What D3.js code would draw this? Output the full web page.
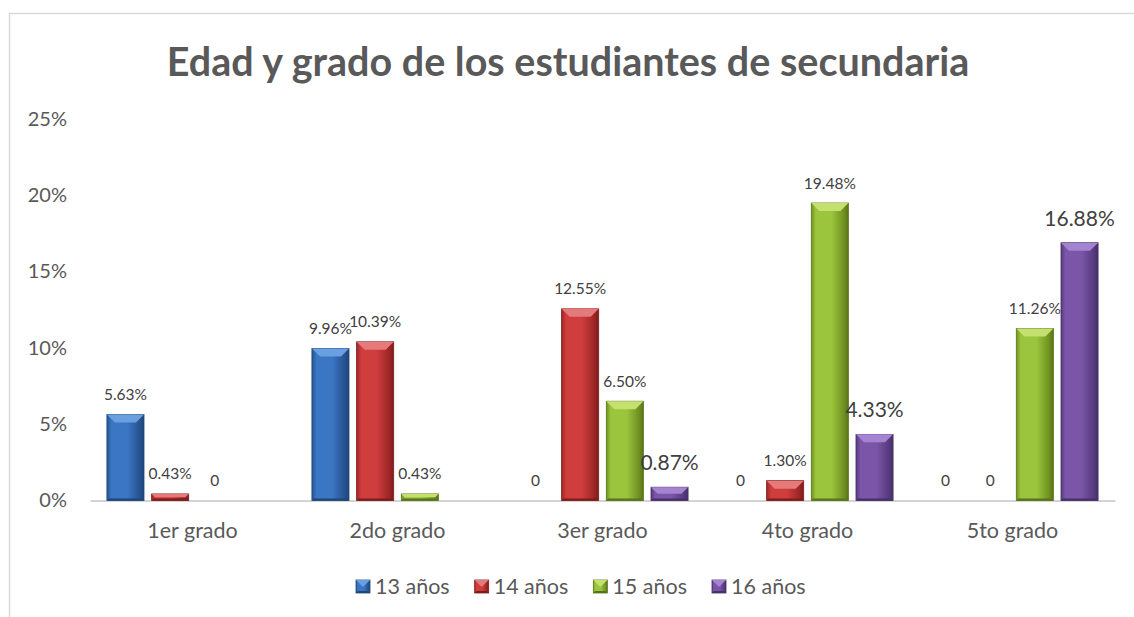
<!DOCTYPE html>
<html><head><meta charset="utf-8">
<script src="https://cdn.jsdelivr.net/npm/d3@7"></script>
<style>body{margin:0;background:#fff}svg{display:block;font-family:Lato,"Open Sans",sans-serif}</style>
</head><body><svg id="c" width="1134" height="617"></svg>
<script>
const categories = ["1er grado","2do grado","3er grado","4to grado","5to grado"];
const seriesNames = ["13 años","14 años","15 años","16 años"];
const s13 = [5.63, 9.96, 0, 0, 0];
const s14 = [0.43, 10.39, 12.55, 1.30, 0];
const s15 = [0, 0.43, 6.50, 19.48, 11.26];
const s16 = [null, null, 0.87, 4.33, 16.88];
const yTicks = [0,5,10,15,20,25];
const title = "Edad y grado de los estudiantes de secundaria";
// styles
const colors = [
  {main:"#3b76c4", light:"#6a9fe0", dark:"#26528f", edge:"#1f4679"},
  {main:"#cf3d3d", light:"#e57a7a", dark:"#9c2626", edge:"#7e1c1c"},
  {main:"#9bc53d", light:"#c4e06f", dark:"#6f9120", edge:"#587419"},
  {main:"#7b56a8", light:"#a483d0", dark:"#573a7f", edge:"#46306a"}
];
const bigLabel = [[false,false,false,false,false],[false,false,false,false,false],[false,false,false,false,false],[false,false,true,true,true]];

const series = [s13,s14,s15,s16];
const svg = d3.select("#c");
const x0 = d3.scaleBand().domain(categories).range([90,1115]).paddingInner(0.165).paddingOuter(0.0825);
const x1 = d3.scaleBand().domain(d3.range(4)).range([0,x0.bandwidth()]).paddingInner(0.17);
const y = d3.scaleLinear().domain([0,25]).range([500.5,118.7]);

// frame
svg.append("rect").attr("x",9.5).attr("y",13.5).attr("width",1135).attr("height",620).attr("fill","none").attr("stroke","#d9d9d9").attr("stroke-width",1.5);

// title
svg.append("text").attr("x",568).attr("y",76).attr("text-anchor","middle").attr("font-weight","bold").attr("font-size",39.5).attr("fill","#595959").text(title);

// y axis labels
const yAxis = d3.axisLeft(y).tickValues(yTicks).tickFormat(d=>d+"%").tickSize(0).tickPadding(0);
const ya = svg.append("g").attr("transform","translate(67,0)").call(yAxis);
ya.select(".domain").remove();
ya.selectAll("text").attr("font-size",20).attr("fill","#595959").attr("font-family","Lato");

// x axis
const xa = svg.append("g").attr("transform","translate(0,500.5)").call(d3.axisBottom(x0).tickSize(0).tickPadding(22));
xa.select(".domain").attr("stroke","#d4d4d4").attr("stroke-width",2);
xa.selectAll("text").attr("font-size",21.5).attr("fill","#595959").attr("font-family","Lato");

// gradients
const defs = svg.append("defs");
colors.forEach((c,i)=>{
  const g = defs.append("linearGradient").attr("id","g"+i).attr("x1","0").attr("x2","1").attr("y1","0").attr("y2","0");
  g.append("stop").attr("offset","0").attr("stop-color",c.dark);
  g.append("stop").attr("offset","0.12").attr("stop-color",c.main);
  g.append("stop").attr("offset","0.55").attr("stop-color",c.main);
  g.append("stop").attr("offset","0.88").attr("stop-color",c.dark);
  g.append("stop").attr("offset","1").attr("stop-color",c.edge);
});

function drawBar(g, x, yTop, w, h, i){
  if(h<=0) return;
  const b = Math.min(8, h/2, w/2);
  g.append("rect").attr("x",x).attr("y",yTop).attr("width",w).attr("height",h).attr("fill","url(#g"+i+")").attr("stroke",colors[i].edge).attr("stroke-width",0.8);
  g.append("path").attr("d",`M${x},${yTop}L${x+w},${yTop}L${x+w-b},${yTop+b}L${x+b},${yTop+b}Z`).attr("fill",colors[i].light);
  const e = Math.min(2,b);
  g.append("path").attr("d",`M${x},${yTop+h}L${x+w},${yTop+h}L${x+w-e},${yTop+h-e}L${x+e},${yTop+h-e}Z`).attr("fill",colors[i].edge);
}

const bars = svg.append("g");
const labels = svg.append("g");
series.forEach((s,i)=>{
  s.forEach((v,j)=>{
    if(v===null) return;
    const bx = x0(categories[j]) + x1(i);
    const w = x1.bandwidth();
    drawBar(bars, bx, y(v), w, y(0)-y(v), i);
    const big = bigLabel[i][j];
    labels.append("text").attr("x",bx+w/2).attr("y",y(v)-(big?17:14.5)).attr("text-anchor","middle")
      .attr("font-size",big?21:15.5).attr("fill","#404040").text(v===0?"0":v.toFixed(2)+"%");
  });
});

// legend
const leg = svg.append("g");
const legX = d3.scalePoint().domain(seriesNames).range([356,712]);
seriesNames.forEach((n,i)=>{
  const lx = legX(n);
  drawBar(leg, lx, 580, 14, 13, i);
  leg.append("text").attr("x",lx+19).attr("y",593.5).attr("font-size",21.5).attr("fill","#595959").text(n);
});
</script></body></html>
